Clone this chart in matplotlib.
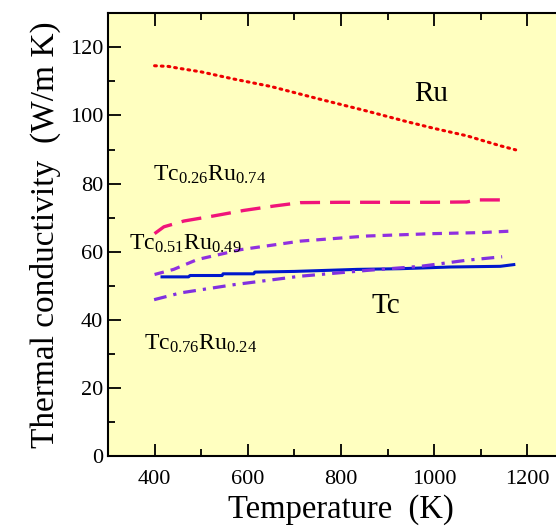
import matplotlib
matplotlib.use('Agg')
import matplotlib.pyplot as plt
from matplotlib.ticker import MultipleLocator

plt.rcParams['font.family'] = ['Liberation Serif', 'DejaVu Serif']
plt.rcParams['mathtext.fontset'] = 'custom'
plt.rcParams['mathtext.rm'] = 'Liberation Serif'
plt.rcParams['mathtext.it'] = 'Liberation Serif:italic'

# Ru
t_ru = [400, 430, 450, 500, 570, 650, 754, 850, 941, 1000, 1071, 1100, 1142, 1175]
k_ru = [114.6, 114.4, 113.9, 112.8, 110.7, 108.5, 104.8, 101.5, 98.2, 96.2, 94.0, 92.8, 91.1, 89.9]

# Tc0.26Ru0.74
t_a = [400, 420, 463, 527, 591, 656, 713, 800, 900, 1000, 1070, 1092, 1160]
k_a = [65.3, 67.3, 69.0, 70.5, 72.1, 73.4, 74.4, 74.5, 74.5, 74.5, 74.6, 75.2, 75.2]

# Tc0.51Ru0.49
t_b = [400, 441, 492, 585, 713, 856, 999, 1100, 1160]
k_b = [53.3, 54.8, 57.7, 60.6, 63.1, 64.6, 65.3, 65.6, 66.0]

# Tc
t_tc = [416, 473, 476, 545, 547, 613, 615, 700, 835, 928, 1035, 1142, 1171]
k_tc = [52.6, 52.6, 53.0, 53.0, 53.5, 53.5, 54.0, 54.2, 54.8, 55.0, 55.5, 55.7, 56.2]

# Tc0.76Ru0.24
t_c = [399, 456, 570, 713, 856, 971, 1071, 1146]
k_c = [45.9, 47.9, 50.3, 52.8, 54.5, 55.7, 57.5, 58.5]

fig = plt.figure(figsize=(5.56, 5.28), dpi=100)
ax = fig.add_axes([0.1942, 0.1364, 0.838, 0.8384])
ax.set_facecolor('#ffffc0')

ax.plot(t_ru, k_ru, color='#ee0000', lw=2.2, linestyle=(0, (0.6, 1.6)), dash_capstyle='round')
ax.plot(t_a, k_a, color='#f0147a', lw=2.4, dashes=(6.0, 3.0))
ax.plot(t_b, k_b, color='#9030e0', lw=2.3, dashes=(3.0, 2.2))
ax.plot(t_tc, k_tc, color='#0018cc', lw=2.2)
ax.plot(t_c, k_c, color='#8030e0', lw=2.3, dashes=(4.0, 2.2, 1.0, 2.2))

ax.text(994, 106.3, 'Ru', fontsize=21, ha='center', va='center')
ax.text(896, 44.0, 'Tc', fontsize=21, ha='center', va='center')
ax.text(396, 80.7, r'Tc$_{\mathrm{0.26}}$Ru$_{\mathrm{0.74}}$', fontsize=17, ha='left', va='baseline')
ax.text(345, 60.6, r'Tc$_{\mathrm{0.51}}$Ru$_{\mathrm{0.49}}$', fontsize=17, ha='left', va='baseline')
ax.text(377, 31.2, r'Tc$_{\mathrm{0.76}}$Ru$_{\mathrm{0.24}}$', fontsize=17, ha='left', va='baseline')

ax.set_xlim(300, 1300)
ax.set_ylim(0, 130)
ax.xaxis.set_major_locator(MultipleLocator(200))
ax.xaxis.set_minor_locator(MultipleLocator(100))
ax.yaxis.set_major_locator(MultipleLocator(20))
ax.yaxis.set_minor_locator(MultipleLocator(10))
ax.tick_params(which='both', direction='in', top=True, right=False, labelsize=16, width=1.3)
ax.tick_params(which='major', length=9)
ax.tick_params(which='minor', length=5)
ax.tick_params(axis='x', pad=10)
for s in ax.spines.values():
    s.set_linewidth(1.5)
ax.spines['right'].set_visible(False)

ax.set_xlabel('Temperature  (K)', fontsize=23.5, labelpad=4)
ax.set_ylabel('Thermal conductivity  (W/m K)', fontsize=24, labelpad=6)

fig.savefig('out.png', dpi=100)
